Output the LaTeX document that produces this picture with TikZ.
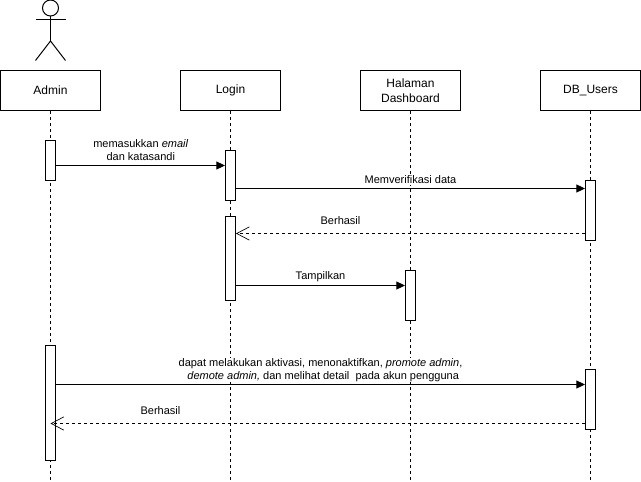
\documentclass[tikz,border=0pt]{standalone}
\usepackage{fontspec}
\setmainfont{Liberation Sans}
\usetikzlibrary{arrows.meta}
\tikzset{
  px/.style={x=0.75pt,y=-0.75pt},
  actorbox/.style={draw=black,fill=white,line width=0.75pt,minimum width=75pt,minimum height=30pt,inner sep=0pt,align=center,font=\fontsize{9}{11.25}\selectfont},
  lifeline/.style={draw=black,line width=0.75pt,dash pattern=on 2.25pt off 2.25pt},
  act/.style={draw=black,fill=white,line width=0.75pt,minimum width=7.5pt,inner sep=0pt},
  msg/.style={draw=black,line width=0.75pt,-{Triangle[length=6.5pt,width=6pt]}},
  ret/.style={draw=black,line width=0.75pt,dash pattern=on 2.25pt off 2.25pt,-{Straight Barb[length=9.5pt,width=10pt,line width=0.5pt]}},
  lbl/.style={fill=white,inner sep=0.5pt,align=center,font=\fontsize{8.25}{9.75}\selectfont},
  stick/.style={draw=black,line width=0.75pt}
}
\begin{document}
\begin{tikzpicture}[px]
\useasboundingbox (0,0) rectangle (641,481);
\fill[white] (0,0) rectangle (641,481);
% actor figure
\draw[stick] (50.5,8) circle[radius=6pt];
\draw[stick] (50.5,16) -- (50.5,41);
\draw[stick] (35.5,20) -- (65.5,20);
\draw[stick] (35.5,60.5) -- (50.5,41) -- (65.5,60.5);
% lifeline heads
\node[actorbox] (admin) at (50.5,90.5) {Admin};
\node[actorbox] (login) at (230.5,90.5) {Login};
\node[actorbox] (dash) at (410.5,90.5) {Halaman\\Dashboard};
\node[actorbox] (db) at (590.5,90.5) {DB\_Users};
% lifeline ends
\coordinate (adminEnd) at (50.5,480.5);
\coordinate (loginEnd) at (230.5,480.5);
\coordinate (dashEnd) at (410.5,480.5);
\coordinate (dbEnd) at (590.5,480.5);
\draw[lifeline] (admin.south) -- (adminEnd);
\draw[lifeline] (login.south) -- (loginEnd);
\draw[lifeline] (dash.south) -- (dashEnd);
\draw[lifeline] (db.south) -- (dbEnd);
% activations
\node[act,minimum height=30pt] (a1) at (50.5,160.5) {};
\node[act,minimum height=37.5pt] (l1) at (230.5,175.5) {};
\node[act,minimum height=63pt] (l2) at (230.5,258.5) {};
\node[act,minimum height=45pt] (d1) at (590.5,210.5) {};
\node[act,minimum height=37.5pt] (h1) at (410.5,295.5) {};
\node[act,minimum height=86.25pt] (a2) at (50.5,402.75) {};
\node[act,minimum height=45pt] (d2) at (590.5,399.5) {};
% message heights
\coordinate (m1) at (0,165.5);
\coordinate (m2) at (0,188.5);
\coordinate (m3) at (0,233.5);
\coordinate (m4) at (0,285.5);
\coordinate (m5) at (0,384.5);
\coordinate (m6) at (0,423.5);
% labels
\node[lbl] (t1) at (140.8,150.2) {memasukkan \textit{email}\\dan katasandi};
\node[lbl] (t2) at (410.5,180) {Memverifikasi data};
\node[lbl] (t3) at (340.5,220.3) {Berhasil};
\node[lbl] (t4) at (320.5,276.3) {Tampilkan};
\node[lbl] (t5) at (320.5,370) {dapat melakukan aktivasi, menonaktifkan, \textit{promote admin},\\\hspace*{4pt}\textit{demote admin,} dan melihat detail\ \ pada akun pengguna};
\node[lbl] (t6) at (160.5,411) {Berhasil};
% messages
\draw[msg] (a1.east |- m1) -- (l1.west |- m1);
\draw[msg] (l1.east |- m2) -- (d1.west |- m2);
\draw[ret] (d1.west |- m3) -- (l2.east |- m3);
\draw[msg] (l2.east |- m4) -- (h1.west |- m4);
\draw[msg] (a2.east |- m5) -- (d2.west |- m5);
\draw[ret] (d2.west |- m6) -- (a2.center |- m6);
\end{tikzpicture}
\end{document}
